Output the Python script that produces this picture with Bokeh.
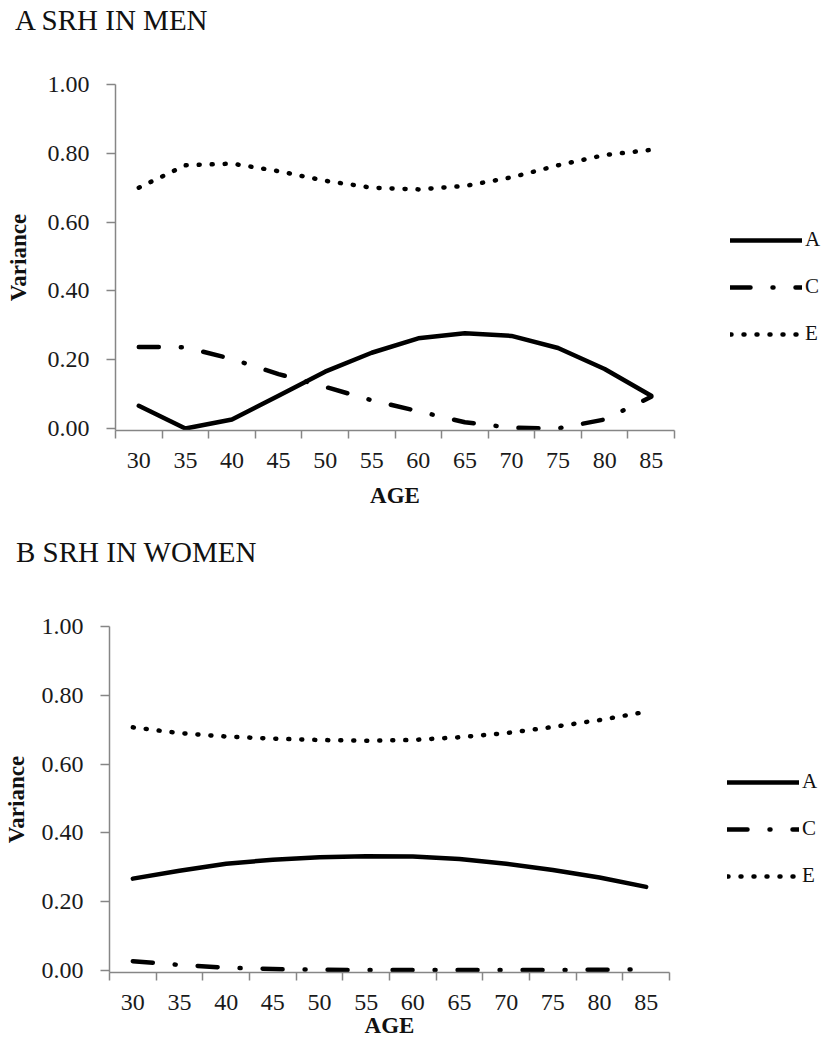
from bokeh.plotting import figure
from bokeh.models import FixedTicker, Legend, LegendItem, Range1d, NumeralTickFormatter, Div
from bokeh.layouts import column, row
from bokeh.embed import file_html
from bokeh.resources import INLINE

ages = [30, 35, 40, 45, 50, 55, 60, 65, 70, 75, 80, 85]
y_ticks = [0.0, 0.2, 0.4, 0.6, 0.8, 1.0]
series_names = ["A", "C", "E"]

men_A = [0.066, 0.0, 0.026, 0.095, 0.165, 0.22, 0.262, 0.277, 0.269, 0.234, 0.173, 0.095]
men_C = [0.237, 0.236, 0.202, 0.158, 0.121, 0.082, 0.05, 0.018, 0.002, 0.0, 0.026, 0.092]
men_E = [0.70, 0.765, 0.77, 0.748, 0.72, 0.70, 0.695, 0.705, 0.73, 0.765, 0.795, 0.81]

women_A = [0.267, 0.29, 0.31, 0.322, 0.329, 0.332, 0.331, 0.324, 0.31, 0.292, 0.27, 0.243]
women_C = [0.027, 0.016, 0.008, 0.004, 0.002, 0.001, 0.001, 0.001, 0.001, 0.001, 0.002, 0.003]
women_E = [0.707, 0.69, 0.68, 0.674, 0.67, 0.668, 0.67, 0.678, 0.69, 0.708, 0.728, 0.752]

SERIF = "Liberation Serif"
AXIS_GRAY = "#868686"
STYLES = [dict(), dict(line_dash="20 22 1 22"), dict(line_dash="1 12")]
MAIN_W = 688
LEG_W = 134


def line_kw(i):
    kw = dict(line_width=4.5, color="black", line_cap="round", line_join="round")
    kw.update(STYLES[i])
    return kw


def make_title(text, height, line_h, pad_left):
    return Div(text=text, width=MAIN_W + LEG_W, height=height, margin=(0, 0, 0, 0),
               styles={"font-family": SERIF, "font-size": "29px", "color": "#111111",
                       "line-height": f"{line_h}px", "padding-left": f"{pad_left}px",
                       "white-space": "nowrap"})


def make_panel(series, fig_h, left, top, bottom, right, xlab_std, ylab_std):
    bounds = [a - 2.5 for a in ages] + [ages[-1] + 2.5]
    p = figure(width=MAIN_W, height=fig_h, output_backend="svg", toolbar_location=None,
               x_range=Range1d(bounds[0], bounds[-1]), y_range=Range1d(-0.006, y_ticks[-1]),
               min_border_left=left, min_border_top=top, min_border_bottom=bottom,
               min_border_right=right, background_fill_color="white",
               border_fill_color="white", outline_line_color=None)
    p.xgrid.visible = False
    p.ygrid.visible = False

    xa = p.xaxis[0]
    xa.ticker = FixedTicker(ticks=ages, minor_ticks=bounds)
    xa.major_tick_line_color = None
    xa.major_tick_out = 8
    xa.major_tick_in = 0
    xa.minor_tick_out = 8
    xa.minor_tick_in = 0
    xa.minor_tick_line_color = AXIS_GRAY
    xa.minor_tick_line_width = 1.5
    xa.axis_line_color = AXIS_GRAY
    xa.axis_line_width = 1.5
    xa.major_label_text_font = SERIF
    xa.major_label_text_font_size = "24px"
    xa.major_label_text_color = "#1a1a1a"
    xa.major_label_standoff = 14
    xa.axis_label = "AGE"
    xa.axis_label_text_font = SERIF
    xa.axis_label_text_font_style = "bold"
    xa.axis_label_text_font_size = "23px"
    xa.axis_label_text_color = "#111111"
    xa.axis_label_standoff = xlab_std

    ya = p.yaxis[0]
    ya.ticker = FixedTicker(ticks=y_ticks, minor_ticks=[])
    ya.formatter = NumeralTickFormatter(format="0.00")
    ya.major_tick_out = 9
    ya.major_tick_in = 0
    ya.major_tick_line_color = AXIS_GRAY
    ya.major_tick_line_width = 1.5
    ya.minor_tick_line_color = None
    ya.axis_line_color = AXIS_GRAY
    ya.axis_line_width = 1.5
    ya.major_label_text_font = SERIF
    ya.major_label_text_font_size = "24px"
    ya.major_label_text_color = "#1a1a1a"
    ya.major_label_standoff = 17
    ya.axis_label = "Variance"
    ya.axis_label_text_font = SERIF
    ya.axis_label_text_font_style = "bold"
    ya.axis_label_text_font_size = "23px"
    ya.axis_label_text_color = "#111111"
    ya.axis_label_standoff = ylab_std

    for i, vals in enumerate(series):
        p.line(ages, vals, **line_kw(i))
    return p


def make_legend_fig(series, fig_h, leg_x, leg_y):
    # legend-only companion plot: the same series are drawn, but its ranges keep them
    # out of view, so only the legend samples show
    lf = figure(width=LEG_W, height=fig_h, output_backend="svg", toolbar_location=None,
                x_range=Range1d(0, 1), y_range=Range1d(0, 1),
                x_axis_type=None, y_axis_type=None,
                min_border_left=0, min_border_right=0, min_border_top=0, min_border_bottom=0,
                outline_line_color=None, background_fill_color="white",
                border_fill_color="white")
    lf.xgrid.visible = False
    lf.ygrid.visible = False
    items = []
    for i, (name, vals) in enumerate(zip(series_names, series)):
        r = lf.line(ages, vals, **line_kw(i))
        items.append(LegendItem(label=name, renderers=[r]))
    legend = Legend(items=items, location=(leg_x, leg_y), glyph_width=72, glyph_height=20,
                    label_height=20, spacing=22, padding=0, margin=0,
                    border_line_color=None, background_fill_alpha=0,
                    label_text_font=SERIF, label_text_font_size="21px",
                    label_text_color="#111111", label_standoff=3)
    lf.add_layout(legend, "center")
    return lf


men = [men_A, men_C, men_E]
women = [women_A, women_C, women_E]

titleA = make_title("A SRH IN MEN", 50, 40, 15)
pA = make_panel(men, 474, 115, 34, 94, 14, 12, 14)
legA = make_legend_fig(men, 474, 42, 84)

titleB = make_title("B SRH IN WOMEN", 56, 56, 16)
pB = make_panel(women, 470, 107, 46, 78, 19, 0, 10)
legB = make_legend_fig(women, 470, 39, 84)

layout = column(titleA, row(pA, legA, spacing=0), titleB, row(pB, legB, spacing=0), spacing=0)
open("out.html", "w").write(file_html(layout, INLINE))
